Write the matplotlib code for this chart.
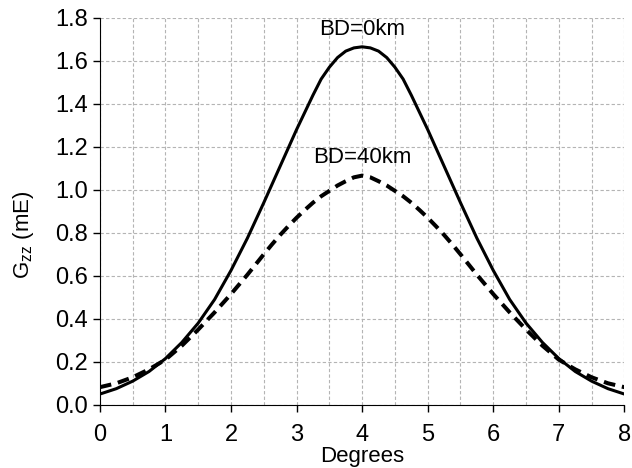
import matplotlib
matplotlib.use("Agg")
import matplotlib.pyplot as plt
from matplotlib.ticker import MultipleLocator, FormatStrFormatter

plt.rcParams['font.family'] = ['Liberation Sans', 'DejaVu Sans']
plt.rcParams['mathtext.fontset'] = 'custom'
plt.rcParams['mathtext.rm'] = 'Liberation Sans'

# values (finer steps round the peak)
degrees = [0.0, 0.25, 0.5, 0.75, 1.0, 1.25, 1.5, 1.75, 2.0, 2.25, 2.5, 2.625, 2.75,
           2.875, 3.0, 3.125, 3.25, 3.375, 3.5, 3.625, 3.75, 3.875, 4.0,
           4.125, 4.25, 4.375, 4.5, 4.625, 4.75, 4.875, 5.0, 5.125, 5.25, 5.375,
           5.5, 5.75, 6.0, 6.25, 6.5, 6.75, 7.0, 7.25, 7.5, 7.75, 8.0]
gzz_bd0 = [0.05, 0.075, 0.11, 0.155, 0.215, 0.29, 0.38, 0.49, 0.625, 0.775, 0.94, 1.025, 1.11,
           1.195, 1.28, 1.36, 1.44, 1.515, 1.57, 1.615, 1.645, 1.66, 1.665,
           1.66, 1.645, 1.615, 1.57, 1.515, 1.44, 1.36, 1.28, 1.195, 1.11, 1.025,
           0.94, 0.775, 0.625, 0.49, 0.38, 0.29, 0.215, 0.155, 0.11, 0.075, 0.05]
gzz_bd40 = [0.082, 0.10, 0.128, 0.165, 0.21, 0.275, 0.35, 0.43, 0.515, 0.605, 0.70, 0.746, 0.79,
            0.831, 0.87, 0.906, 0.94, 0.97, 0.995, 1.02, 1.04, 1.058, 1.066,
            1.058, 1.04, 1.02, 0.995, 0.97, 0.94, 0.906, 0.87, 0.831, 0.79, 0.746,
            0.70, 0.605, 0.515, 0.43, 0.35, 0.275, 0.21, 0.165, 0.128, 0.10, 0.082]

fig = plt.figure(figsize=(6.32, 4.68), dpi=100)
ax = fig.add_axes([0.158, 0.135, 0.83, 0.827])

ax.plot(degrees, gzz_bd0, color='black', lw=2.2)
ax.plot(degrees, gzz_bd40, color='black', lw=2.9, linestyle=(0, (2.9, 1.7)))

ax.text(4, 1.745, 'BD=0km', ha='center', va='center', fontsize=16)
ax.text(4, 1.15, 'BD=40km', ha='center', va='center', fontsize=16)

ax.set_xlim(0, 8)
ax.set_ylim(0, 1.8)
ax.xaxis.set_major_locator(MultipleLocator(1))
ax.xaxis.set_minor_locator(MultipleLocator(0.5))
ax.yaxis.set_major_locator(MultipleLocator(0.2))
ax.yaxis.set_major_formatter(FormatStrFormatter('%.1f'))
ax.grid(True, which='both', color='#b4b4b4', linestyle=(0, (3, 2)), lw=0.8)
ax.tick_params(which='minor', length=0)
ax.tick_params(which='major', direction='out', length=5, labelsize=17, width=1)
ax.tick_params(axis='x', pad=9)
ax.set_axisbelow(True)

for s in ['top', 'right']:
    ax.spines[s].set_visible(False)

ax.set_xlabel('Degrees', fontsize=16)
ax.xaxis.set_label_coords(0.5, -0.106)
ax.set_ylabel(r'G$_{\mathrm{zz}}$ (mE)', fontsize=16)
ax.yaxis.set_label_coords(-0.122, 0.44)

fig.savefig('out.png', dpi=100)
